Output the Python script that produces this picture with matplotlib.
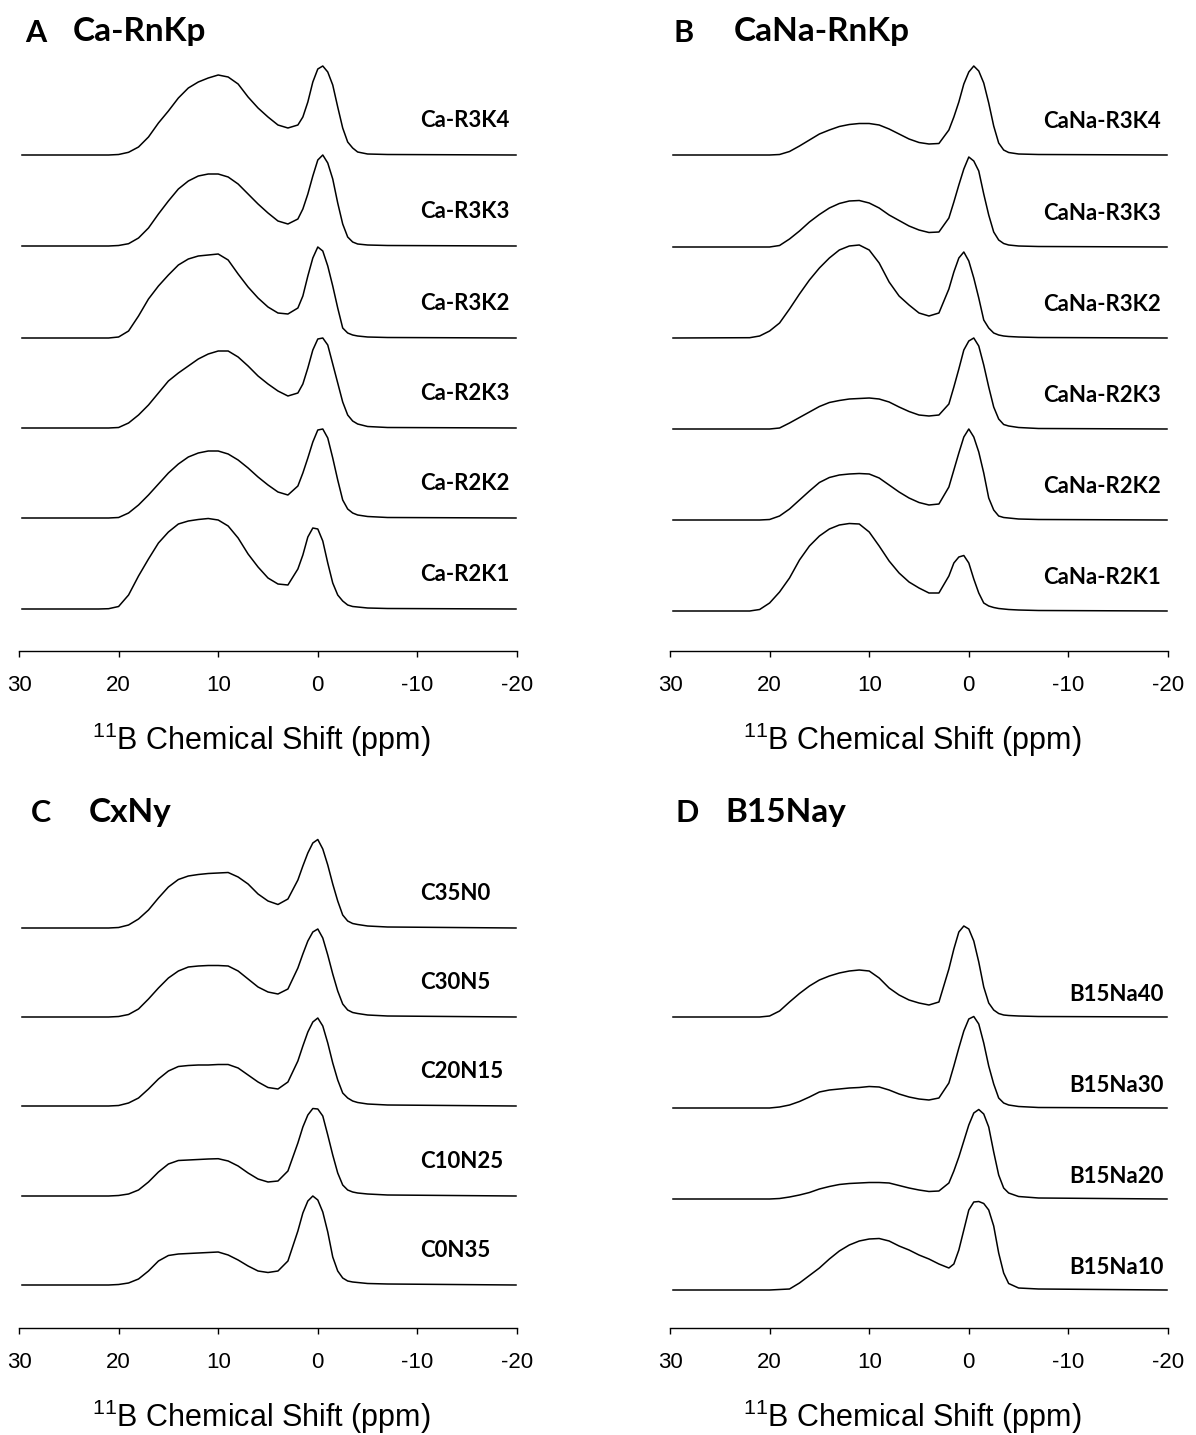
import matplotlib
matplotlib.use('Agg')
import matplotlib.pyplot as plt

# 11B MAS NMR spectra, four stacked panels
plt.rcParams['font.family'] = 'Liberation Sans'
plt.rcParams['mathtext.fontset'] = 'custom'
plt.rcParams['mathtext.rm'] = 'Liberation Sans'

W, H = 1196, 1435  # canvas in pixels (dpi 100)

# chemical shift grid (ppm) shared by every trace
ppm = [29.7, 22, 21, 20, 19, 18, 17, 16, 15, 14, 13, 12, 11, 10, 9, 8, 7, 6, 5, 4, 3, 2,
       1.5, 1, 0.5, 0, -0.5, -1, -1.5, -2, -2.5, -3, -3.5, -4, -5, -7, -19.9]

# ---- A: Ca-RnKp ----
ca_r3k4 = [0, 0, 0, 0.5, 2.7, 8, 18, 32, 44, 57, 67, 73, 77, 80, 78, 71, 58, 47, 38, 30, 27, 30,
           38, 53, 73, 86, 89, 83, 70, 48, 27, 13, 7, 3, 1, 0.5, 0]
ca_r3k3 = [0, 0, 0, 0.5, 2.3, 8, 18, 32, 45, 57, 65, 70, 72, 72, 69, 62, 52, 42, 33, 25, 22, 27,
           37, 52, 70, 86, 91, 83, 67, 43, 22, 9, 4, 2, 1, 0.5, 0]
ca_r3k2 = [0, 0, 0, 1, 7, 22, 39, 52, 63, 73, 79, 82, 83, 84, 78, 64, 51, 40, 31, 25, 24, 30,
           42, 62, 80, 91, 87, 72, 52, 30, 10, 5, 3, 2, 1, 0.5, 0]
ca_r2k3 = [0, 0, 0, 0.5, 5, 13, 23, 35, 47, 55, 62, 69, 74, 77, 77, 71, 62, 52, 44, 37, 32, 35,
           44, 60, 78, 89, 90, 83, 64, 45, 26, 13, 7, 4, 1.5, 0.5, 0]
ca_r2k2 = [0, 0, 0, 0.5, 5, 13, 23, 34, 45, 54, 61, 65, 67, 67, 64, 58, 50, 41, 33, 26, 23, 32,
           45, 60, 76, 88, 89, 80, 60, 38, 18, 9, 5, 3, 1.5, 0.5, 0]
ca_r2k1 = [0, 0, 0.3, 2.5, 14, 33, 50, 66, 77, 85, 88, 89.5, 90.5, 89, 83, 71, 55, 42, 31, 25, 24, 40,
           54, 72, 81, 80, 68, 46, 26, 14, 8, 4, 2.5, 2, 1, 0.5, 0]

# ---- B: CaNa-RnKp ----
cana_r3k4 = [0, 0, 0, 0, 0.5, 3.5, 9, 15, 21, 25, 28.5, 30.5, 31.5, 31.5, 30, 26, 21, 16, 12.5, 11, 11.5, 25,
             38, 53, 71, 83, 89, 84, 72, 52, 29, 12, 5, 2.5, 1, 0.5, 0]
cana_r3k3 = [0, 0, 0, 0, 1.5, 8, 16, 25, 32.5, 39, 43.5, 46, 46.5, 44, 39, 32, 26.5, 21, 17, 14.5, 15, 29,
             45, 62, 78, 90, 86, 76, 53, 32, 15, 7, 3.5, 2, 1, 0.5, 0]
cana_r3k2 = [0, 0.3, 2, 7, 15, 29, 44, 58, 70, 80, 88, 92, 93, 88, 75, 56, 42, 33, 25, 22, 25, 49,
             66, 80, 86, 77, 60, 40, 18, 10, 5, 3, 2, 1.5, 1, 0.5, 0]
cana_r2k3 = [0, 0, 0, 0, 1, 6, 11.5, 17, 22.5, 26.5, 28.5, 30, 30.5, 31, 30, 27, 22, 17.5, 14, 13, 14, 25,
             42, 60, 79, 88, 91, 83, 64, 42, 22, 10, 4.5, 3, 1.5, 0.5, 0]
cana_r2k2 = [0, 0, 0, 0.5, 4, 11, 20, 29, 37.5, 42.5, 45, 46, 46.5, 46, 42, 35, 28, 22, 17.5, 15, 16, 33,
             50, 67, 83, 91, 83, 68, 47, 22, 10, 4, 2.5, 2, 1, 0.5, 0]
cana_r2k1 = [0, 0, 1.5, 8, 19, 33, 51, 65, 75, 82, 86, 87.5, 87, 79, 65, 50, 38, 29, 23, 18, 18, 35,
             48, 54, 55.5, 48, 32, 18, 8, 5, 3.5, 2.5, 2, 1.5, 1, 0.5, 0]

# ---- C: CxNy ----
c35n0 = [0, 0, 0, 0.5, 3, 9, 18, 30, 41, 48.5, 52, 53.5, 54.5, 55, 55.5, 51, 44, 34, 27, 23.5, 29, 48,
         62, 75, 85, 88.5, 79, 63, 44, 27, 13, 7, 4.5, 3.5, 2, 1, 0]
c30n5 = [0, 0, 0, 0.5, 2.5, 8, 18, 29, 39, 46, 50, 51, 51.5, 51.5, 51, 46, 38, 30, 25, 23, 28, 49,
         63, 76, 85, 88, 79, 62, 43, 26, 13, 7, 4.5, 3.5, 2, 1, 0]
c20n15 = [0, 0, 0, 0.5, 3, 8, 17, 27, 35, 39.5, 40.5, 41, 41, 41.5, 41.5, 38, 31, 24, 18.5, 17, 24, 45,
          60, 74, 84, 88, 80, 63, 43, 26, 13, 8, 5, 3.5, 2, 1, 0]
c10n25 = [0, 0, 0, 0.5, 2, 6, 14, 24, 32, 35.5, 36, 36.5, 37, 37.3, 35, 30, 23, 17, 14, 15, 25, 53,
          69, 81, 87.5, 87, 80, 61, 41, 23, 11, 6, 4, 3, 2, 1, 0]
c0n35 = [0, 0, 0, 0.5, 2, 6, 14, 24, 29.5, 31, 31.5, 32, 32.5, 33, 30, 25, 19, 14, 12.5, 14, 24, 54,
         72, 84, 89, 85, 73, 53, 28, 14, 7, 4, 3, 2.5, 1.5, 1, 0]

# ---- D: B15Nay ----
b15na40 = [0, 0, 0, 1, 6, 15, 23.5, 31, 37, 41, 44, 46, 47, 46, 39, 29, 22, 17, 14, 12, 15, 48,
           68, 85, 91, 88, 76, 55, 30, 14, 7, 3.5, 2, 1.5, 1, 0.5, 0]
b15na30 = [0, 0, 0, 0, 1, 3, 6.5, 11, 16, 18, 19, 20, 20.5, 21.5, 21, 18, 14, 11, 9, 8, 10, 25,
           42, 60, 77, 89, 91.5, 84, 65, 42, 24, 10, 5, 3, 1.5, 0.5, 0]
b15na20 = [0, 0, 0, 0, 0.5, 2, 4, 6.5, 10, 12.5, 14.5, 15.5, 16, 16.5, 16.5, 16, 13.5, 11, 9, 7.5, 8, 16,
           28, 42, 58, 74, 86, 89.5, 85, 72, 47, 24, 11, 6, 2.5, 1, 0]
b15na10 = [0, 0, 0, 0, 0.5, 1, 7, 14.5, 22, 31, 39, 45, 49, 51, 51.5, 49, 44, 40, 35, 31, 26, 22,
           26, 40, 60, 80, 88, 88.5, 86.5, 80, 64, 37, 17, 6.5, 2, 1, 0]

# stacking offsets (baseline height above the axis, px) and sample names
names_a = ['Ca-R3K4', 'Ca-R3K3', 'Ca-R3K2', 'Ca-R2K3', 'Ca-R2K2', 'Ca-R2K1']
offsets_a = [496, 405, 313, 223, 133, 42]
names_b = ['CaNa-R3K4', 'CaNa-R3K3', 'CaNa-R3K2', 'CaNa-R2K3', 'CaNa-R2K2', 'CaNa-R2K1']
offsets_b = [496, 404, 313, 222, 131, 40]
names_c = ['C35N0', 'C30N5', 'C20N15', 'C10N25', 'C0N35']
offsets_c = [400, 311, 222, 132, 43]
names_d = ['B15Na40', 'B15Na30', 'B15Na20', 'B15Na10']
offsets_d = [311, 220, 129, 38]

panels = [
    # letter, title, left px, axis y px, height px, traces, names, offsets,
    # label x (ppm), label rise, letter / title anchor (px)
    ('A', 'Ca-RnKp', 19, 651, 611, [ca_r3k4, ca_r3k3, ca_r3k2, ca_r2k3, ca_r2k2, ca_r2k1],
     names_a, offsets_a, -10.3, 28, (25, 41.5), (73, 41.5)),
    ('B', 'CaNa-RnKp', 670, 651, 611, [cana_r3k4, cana_r3k3, cana_r3k2, cana_r2k3, cana_r2k2, cana_r2k1],
     names_b, offsets_b, -7.5, 27, (673, 41.5), (734, 41.5)),
    ('C', 'CxNy', 19, 1328, 568, [c35n0, c30n5, c20n15, c10n25, c0n35],
     names_c, offsets_c, -10.3, 28, (31, 822), (89, 822)),
    ('D', 'B15Nay', 670, 1328, 568, [b15na40, b15na30, b15na20, b15na10],
     names_d, offsets_d, -10.1, 16, (675, 822), (725, 822)),
]

fig = plt.figure(figsize=(W / 100, H / 100), dpi=100)
fig.patch.set_facecolor('white')

for (letter, title, x0, ybase, ah, traces, names, offsets, lab_x, lab_dy,
     letter_pos, title_pos) in panels:
    ax = fig.add_axes([x0 / W, 1 - ybase / H, 498 / W, ah / H])
    for trace, name, off in zip(traces, names, offsets):
        ax.plot(ppm, [off + v for v in trace], color='black', lw=1.1,
                solid_joinstyle='round')
        ax.text(lab_x, off + lab_dy, name, family='Lato', fontweight='bold',
                fontsize=16, ha='left', va='baseline')
    ax.set_xlim(30, -20)
    ax.set_ylim(0, ah)
    for side in ('left', 'right', 'top'):
        ax.spines[side].set_visible(False)
    ax.spines['bottom'].set_linewidth(1.0)
    ax.set_yticks([])
    ax.set_xticks([30, 20, 10, 0, -10, -20])
    ax.set_xticklabels(['30', '20', '10', '0', '-10', '-20'])
    ax.tick_params(axis='x', direction='out', length=4.5, width=1.0,
                   labelsize=16, pad=13)
    ax.set_xlabel(r'$\mathregular{^{11}}$B Chemical Shift (ppm)', fontsize=22)
    ax.xaxis.set_label_coords(0.486, -89 / ah)
    ax.xaxis.label.set_verticalalignment('center')

    fig.text(letter_pos[0] / W, 1 - letter_pos[1] / H, letter, family='Lato',
             fontweight='bold', fontsize=22, ha='left', va='baseline')
    fig.text(title_pos[0] / W, 1 - title_pos[1] / H, title, family='Lato',
             fontweight='bold', fontsize=24, ha='left', va='baseline')

fig.savefig('out.png', dpi=100)
